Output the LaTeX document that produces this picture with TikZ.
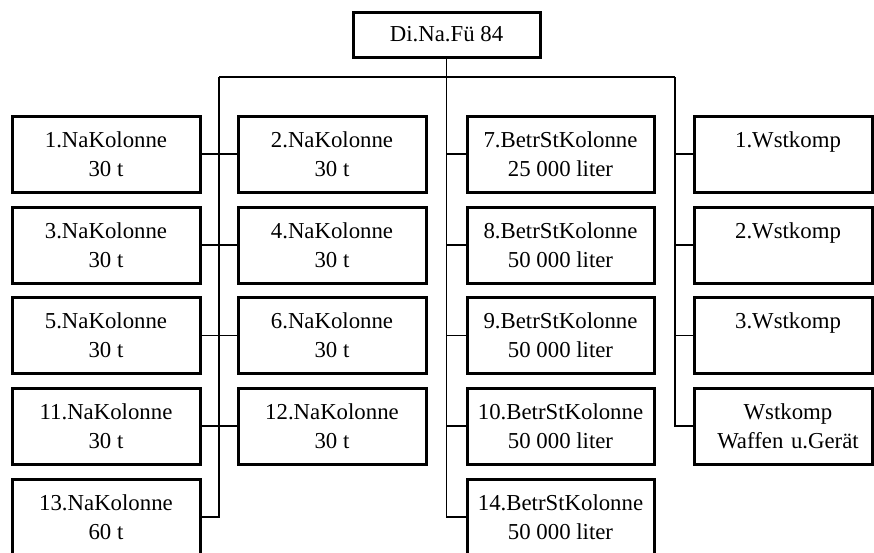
\documentclass[tikz,border=0pt]{standalone}
\usepackage{fontspec}
\setmainfont{Liberation Serif}
\begin{document}
\begin{tikzpicture}[x=1pt,y=-1pt,
  unitbox/.style={draw,line width=3pt,rectangle,fill=white,minimum width=188pt,minimum height=76pt,inner sep=0pt,align=center,
    font=\fontsize{22.8}{29}\selectfont},
  wstbox/.style={unitbox,minimum width=178pt,text width=178pt},
  link/.style={line width=1.2pt}]
\clip (0,0) rectangle (874,552);
\useasboundingbox (0,0) rectangle (874,552);
\node[unitbox,minimum width=187pt,minimum height=45pt] (top) at (446.5,34.5) {Di.Na.Fü 84};
% column 1
\node[unitbox] (n1) at (106,154) {1.NaKolonne\\30 t};
\node[unitbox] (n3) at (106,245) {3.NaKolonne\\30 t};
\node[unitbox] (n5) at (106,335.5) {5.NaKolonne\\30 t};
\node[unitbox] (n11) at (106,426) {11.NaKolonne\\30 t};
\node[unitbox] (n13) at (106,517) {13.NaKolonne\\60 t};
% column 2
\node[unitbox] (n2) at (332,154) {2.NaKolonne\\30 t};
\node[unitbox] (n4) at (332,245) {4.NaKolonne\\30 t};
\node[unitbox] (n6) at (332,335.5) {6.NaKolonne\\30 t};
\node[unitbox] (n12) at (332,426) {12.NaKolonne\\30 t};
% column 3
\node[unitbox,minimum width=187pt] (n7) at (560.5,154) {7.BetrStKolonne\\25 000 liter};
\node[unitbox,minimum width=187pt] (n8) at (560.5,245) {8.BetrStKolonne\\50 000 liter};
\node[unitbox,minimum width=187pt] (n9) at (560.5,335.5) {9.BetrStKolonne\\50 000 liter};
\node[unitbox,minimum width=187pt] (n10) at (560.5,426) {10.BetrStKolonne\\50 000 liter};
\node[unitbox,minimum width=187pt] (n14) at (560.5,517) {14.BetrStKolonne\\50 000 liter};
% column 4
\node[wstbox] (w1) at (783,154) {\hspace*{10pt}1.Wstkomp\\\phantom{0}};
\node[wstbox] (w2) at (783,245) {\hspace*{10pt}2.Wstkomp\\\phantom{0}};
\node[wstbox] (w3) at (783,335.5) {\hspace*{10pt}3.Wstkomp\\\phantom{0}};
\node[wstbox] (w4) at (783,426) {\hspace*{10pt}Wstkomp\\\hspace*{10pt}Waffen u.Gerät};
% connectors
\coordinate (busL) at (219,77);
\coordinate (busR) at (675,77);
\draw[link] (busL) -- (busR);
\draw[link] (top.south) |- (n14.west);
\draw[link] (top.south |- n7.west) -- (n7.west);
\draw[link] (top.south |- n8.west) -- (n8.west);
\draw[link] (top.south |- n9.west) -- (n9.west);
\draw[link] (top.south |- n10.west) -- (n10.west);
\draw[link] (busL) |- (n13.east);
\draw[link] (n1.east) -- (n2.west);
\draw[link] (n3.east) -- (n4.west);
\draw[link] (n5.east) -- (n6.west);
\draw[link] (n11.east) -- (n12.west);
\draw[link] (busR) |- (w4.west);
\draw[link] (busR |- w1.west) -- (w1.west);
\draw[link] (busR |- w2.west) -- (w2.west);
\draw[link] (busR |- w3.west) -- (w3.west);
\end{tikzpicture}
\end{document}
